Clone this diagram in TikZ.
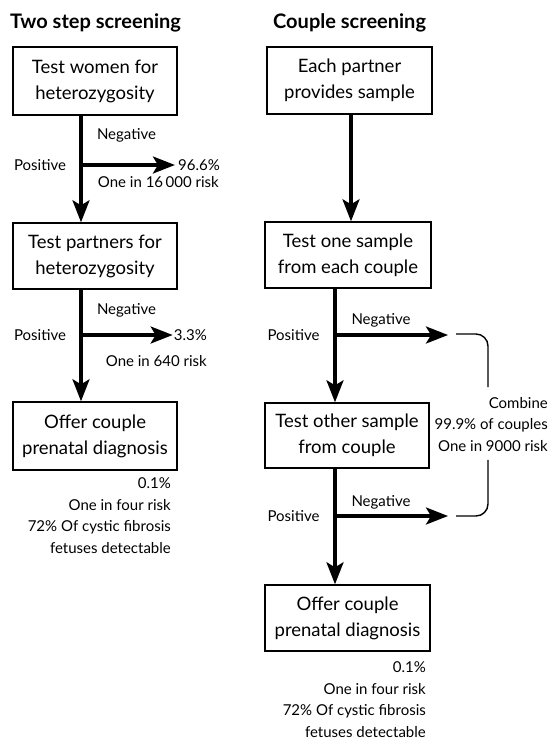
\documentclass[tikz,border=0pt]{standalone}
\usepackage{fontspec}
\setmainfont{Lato}
\usetikzlibrary{arrows.meta}
\tikzset{
  box/.style={draw, line width=1.4pt, minimum width=164pt, align=center, inner sep=0pt,
    font=\fontsize{18.5}{26}\selectfont},
  lbl/.style={inner sep=0pt, font=\fontsize{15}{21.7}\selectfont},
  ttl/.style={inner sep=0pt, font=\fontsize{20}{24}\selectfont\bfseries},
  arr/.style={line width=3.2pt, -{Stealth[length=22pt, width=17pt, inset=5pt]}},
  brk/.style={line width=1.4pt, rounded corners=12pt}
}
\begin{document}
\begin{tikzpicture}[x=1pt,y=1pt]
\useasboundingbox (0,0) rectangle (550,-740);
\fill[white] (0,0) rectangle (550,-740);
% titles
\node[ttl, anchor=west] (t1) at (10,-23) {Two step screening};
\node[ttl, anchor=west] (t2) at (273,-23) {Couple screening};
% left column boxes
\node[box, minimum height=68pt] (L1) at (95,-81) {Test women for\\heterozygosity};
\node[box, minimum height=66pt] (L2) at (95,-256) {Test partners for\\heterozygosity};
\node[box, minimum height=68pt] (L3) at (95,-436) {Offer couple\\prenatal diagnosis};
\coordinate (xl) at (81,0);
\coordinate (jL1) at (81,-165);
\coordinate (jL2) at (81,-335);
% left labels
\node[lbl] (negL1) at (126.5,-135) {Negative};
\node[lbl] (posL1) at (40,-165) {Positive};
\node[lbl, anchor=east] (pL1) at (220,-165) {96.6\%};
\node[lbl, anchor=east] (rL1) at (219,-182) {One in 16\,000 risk};
\node[lbl] (negL2) at (126.5,-310) {Negative};
\node[lbl] (posL2) at (40,-335) {Positive};
\node[lbl, anchor=east] (pL2) at (207,-335) {3.3\%};
\node[lbl, anchor=east] (rL2) at (207,-361) {One in 640 risk};
\node[lbl, anchor=east, align=right] (oL) at (171,-515.5) {0.1\%\\One in four risk\\72\% Of cystic fibrosis\\fetuses detectable};
% left arrows
\draw[arr] (L1.south -| xl) -- (L2.north -| xl);
\draw[arr] (L2.south -| xl) -- (L3.north -| xl);
\draw[arr, shorten >=3pt] (jL1) -- (pL1.west);
\draw[arr, shorten >=1pt] (jL2) -- (pL2.west);
% right column boxes
\node[box, minimum width=165pt, minimum height=67pt] (R1) at (349.5,-80.5) {Each partner\\provides sample};
\node[box, minimum width=166pt, minimum height=66pt] (R2) at (348,-255) {Test one sample\\from each couple};
\node[box, minimum width=164pt, minimum height=65pt] (R3) at (347,-435.5) {Test other sample\\from couple};
\node[box, minimum width=165pt, minimum height=66pt] (R4) at (347.5,-618) {Offer couple\\prenatal diagnosis};
\coordinate (xr1) at (351,0);
\coordinate (xr) at (335,0);
\coordinate (jR1) at (335,-335);
\coordinate (jR2) at (335,-516);
\coordinate (tR1) at (448,-335);
\coordinate (tR2) at (448,-516);
\coordinate (bR1) at (456,-334);
\coordinate (bR2) at (456,-516);
\coordinate (xb) at (488,0);
% right labels
\node[lbl] (negR1) at (381,-320) {Negative};
\node[lbl] (posR1) at (293.5,-335) {Positive};
\node[lbl] (negR2) at (381,-502) {Negative};
\node[lbl] (posR2) at (293.5,-516) {Positive};
\node[lbl, anchor=east, align=right] (comb) at (548,-424.5) {Combine\\99.9\% of couples\\One in 9000 risk};
\node[lbl, anchor=east, align=right] (oR) at (426,-699.5) {0.1\%\\One in four risk\\72\% Of cystic fibrosis\\fetuses detectable};
% right arrows
\draw[arr] (R1.south -| xr1) -- (R2.north -| xr1);
\draw[arr] (R2.south -| xr) -- (R3.north -| xr);
\draw[arr] (R3.south -| xr) -- (R4.north -| xr);
\draw[arr] (jR1) -- (tR1);
\draw[arr] (jR2) -- (tR2);
% bracket
\draw[brk] (bR1) -- (bR1 -| xb) -- ([yshift=10pt]comb.north -| xb);
\draw[brk] ([yshift=-8pt]comb.south -| xb) -- (bR2 -| xb) -- (bR2);
\end{tikzpicture}
\end{document}
